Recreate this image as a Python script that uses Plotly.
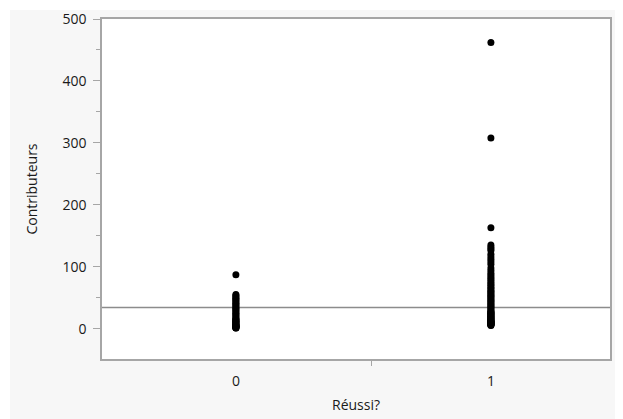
import plotly.graph_objects as go

# Data
categories = [0, 1]
group0_values = [87, 55, 53, 51, 49, 47, 45, 43, 41, 39, 37, 35, 33, 31, 29, 27, 25, 23, 21, 19,
                 17, 15, 14, 13, 12, 11, 10, 9, 8, 7, 6, 5, 5, 4, 4, 3, 3, 2, 2, 1, 1]
group1_values = [462, 308, 163, 135, 132, 129, 126, 120, 116, 112, 108, 104, 98, 94, 90, 87, 84,
                 81, 78, 75, 72, 70, 67, 65, 62, 60, 58, 56, 54, 52, 50, 48, 46, 44, 42, 40,
                 38, 36, 34, 32, 30, 28, 27, 26, 25, 24, 23, 22, 21, 20, 19, 18, 17, 16, 15,
                 14, 13, 12, 12, 11, 11, 10, 10, 9, 9, 8, 8, 7, 7, 6, 6, 5]
grand_mean = 34
y_ticks = [0, 100, 200, 300, 400, 500]
x_tick_labels = ["0", "1"]
x_title = "Réussi?"
y_title = "Contributeurs"

xs = [categories[0]] * len(group0_values) + [categories[1]] * len(group1_values)
ys = group0_values + group1_values

# page body has an 8px margin; layout compensates for that offset
L, T, W, H = 94, 11, 508, 340
FIG_W, FIG_H = 623, 419

fig = go.Figure()
fig.add_trace(go.Scatter(
    x=xs, y=ys, mode="markers",
    marker=dict(color="black", size=7, line=dict(width=0)),
    showlegend=False, hoverinfo="skip"))

# grand mean line
fig.add_shape(type="line", xref="paper", x0=0, x1=1, yref="y", y0=grand_mean, y1=grand_mean,
              line=dict(color="#8c8c8c", width=1.5), layer="below")

# white margin strips at top and left of the gray panel
fig.add_shape(type="rect", xref="paper", yref="paper", x0=-0.3, x1=1.1,
              y0=(T + H - 2) / H, y1=(T + H + 5) / H, fillcolor="white", line=dict(width=0), layer="below")
fig.add_shape(type="rect", xref="paper", yref="paper", x0=(-5 - L) / W, x1=(2 - L) / W,
              y0=-0.3, y1=1.1, fillcolor="white", line=dict(width=0), layer="below")

axis_color = "#a6a6a6"
font_family = "Open Sans, Segoe UI, sans-serif"
text_color = "#1a1a1a"

fig.update_layout(
    width=FIG_W, height=FIG_H,
    margin=dict(l=L, r=FIG_W - L - W, t=T, b=FIG_H - T - H, autoexpand=False),
    paper_bgcolor="#f7f7f7",
    plot_bgcolor="white",
    font=dict(family=font_family, size=14, color=text_color),
    xaxis=dict(
        automargin=False,
        range=[-0.525, 1.467],
        tickvals=categories, ticktext=x_tick_labels,
        ticks="", showgrid=False, zeroline=False,
        showline=True, linecolor=axis_color, linewidth=1.5, mirror=True,
        minor=dict(tickvals=[0.53], ticks="outside", ticklen=5, tickcolor=axis_color, tickwidth=1, showgrid=False),
        ticklabelstandoff=8,
        title=dict(text=x_title, standoff=12, font=dict(size=14)),
        tickfont=dict(size=14, color=text_color),
        fixedrange=True,
    ),
    yaxis=dict(
        automargin=False,
        range=[-49, 500],
        tickvals=y_ticks,
        ticks="outside", ticklen=7, tickcolor=axis_color, tickwidth=1,
        showgrid=False, zeroline=False,
        showline=True, linecolor=axis_color, linewidth=1.5, mirror=True,
        minor=dict(dtick=50, tick0=0, ticks="outside", ticklen=4, tickcolor=axis_color, showgrid=False),
        ticklabelstandoff=4,
        title=dict(text=y_title, standoff=22, font=dict(size=14)),
        tickfont=dict(size=14, color=text_color),
        fixedrange=True,
    ),
)

fig.write_html("out.html")
